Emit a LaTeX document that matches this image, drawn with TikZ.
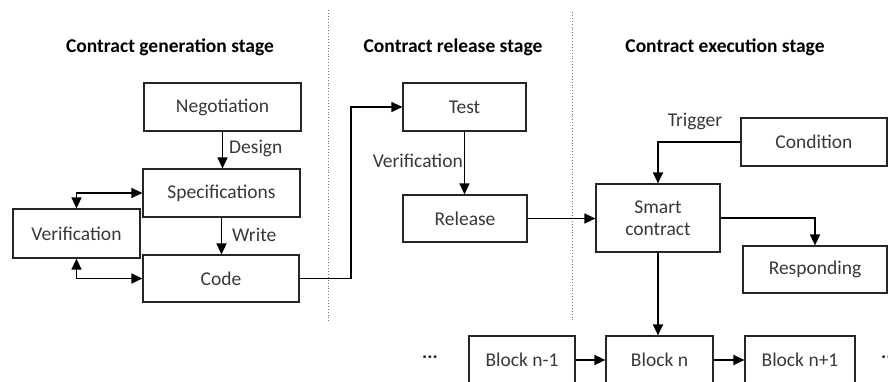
\documentclass[tikz,border=0pt]{standalone}
\usepackage{fontspec}
\setmainfont{Carlito}
\usetikzlibrary{arrows.meta,calc}
\begin{document}
\begin{tikzpicture}[x=1pt,y=-1pt,
  box/.style={draw, line width=1.2pt, draw=black!85, inner sep=0pt, font=\fontsize{19.5}{22}\selectfont, text=black!78, align=center},
  arr/.style={line width=1.4pt, -{Triangle[length=11pt,width=10pt]}},
  darr/.style={line width=1.4pt, {Triangle[length=11pt,width=10pt]}-{Triangle[length=11pt,width=10pt]}},
  lbl/.style={font=\fontsize{19.5}{22}\selectfont, text=black!78, inner sep=0pt},
  dots/.style={font=\bfseries\fontsize{19.5}{22}\selectfont, text=black!85, inner sep=0pt},
  ttl/.style={font=\bfseries\fontsize{19.5}{22}\selectfont, inner sep=0pt},
  divider/.style={dotted, line width=0.9pt, black!55}]
\useasboundingbox (0,0) rectangle (888,381);
\clip (0,0) rectangle (888,381);
% titles
\node[ttl] (t1) at (170,47) {Contract generation stage};
\node[ttl] (t2) at (453,47) {Contract release stage};
\node[ttl] (t3) at (725,47) {Contract execution stage};
% dividers
\coordinate (d1a) at (328,10); \coordinate (d1b) at (328,322);
\coordinate (d2a) at (572,12); \coordinate (d2b) at (572,322);
\draw[divider] (d1a) -- (d1b);
\draw[divider] (d2a) -- (d2b);
% boxes
\node[box, minimum width=157, minimum height=48] (neg) at (222.5,107) {Negotiation};
\node[box, minimum width=157, minimum height=48] (spec) at (221.5,193) {Specifications};
\node[box, minimum width=127, minimum height=49] (ver) at (76.5,233.5) {Verification};
\node[box, minimum width=156, minimum height=47] (code) at (221,278.5) {Code};
\node[box, minimum width=123, minimum height=48] (test) at (464.5,107) {Test};
\node[box, minimum width=124, minimum height=47] (rel) at (465,218.5) {Release};
\node[box, minimum width=146, minimum height=48] (cond) at (814,142) {Condition};
\node[box, minimum width=124, minimum height=68] (smart) at (658,218) {Smart\\[0pt]contract};
\node[box, minimum width=144, minimum height=47] (resp) at (815,269.5) {Responding};
\node[box, minimum width=106, minimum height=48] (bn1) at (522,360) {Block n-1};
\node[box, minimum width=107, minimum height=48] (bn) at (659.5,360) {Block n};
\node[box, minimum width=110, minimum height=48] (bnp) at (800,360) {Block n+1};
% labels
\node[lbl, anchor=west] (design) at (229,148) {Design};
\node[lbl, anchor=west] (write) at (232,235) {Write};
\node[lbl, anchor=east] (verlbl) at (463,161) {Verification};
\node[lbl] (trig) at (695,121) {Trigger};
\node[dots] (dots1) at (430,357) {...};
\node[dots, anchor=west] (dots2) at (881,357) {...};
% connectors
\draw[arr] (neg.south) -- (neg.south |- spec.north);
\draw[arr] (spec.south) -- (spec.south |- code.north);
\draw[darr] (ver.north) |- (spec.west);
\draw[darr] (ver.south) |- (code.west);
\coordinate (c1) at (351,278.5);
\draw[arr] (code.east) -- (c1) |- (test.west);
\draw[arr] (test.south) -- (test.south |- rel.north);
\draw[arr] (rel.east) -- (rel.east -| smart.west);
\draw[arr] (cond.west) -| (smart.north);
\draw[arr] (smart.east) -| (resp.north);
\draw[arr] (smart.south) -- (smart.south |- bn.north);
\draw[arr] (bn1.east) -- (bn.west);
\draw[arr] (bn.east) -- (bnp.west);
\end{tikzpicture}
\end{document}
